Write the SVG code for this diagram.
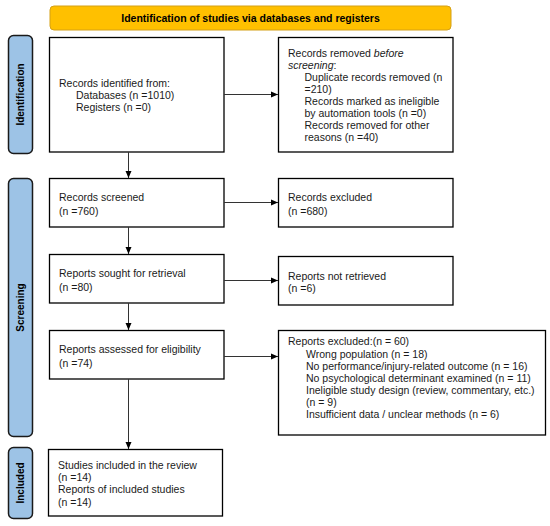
<svg xmlns="http://www.w3.org/2000/svg" width="550" height="526" viewBox="0 0 550 526">
<defs>
<marker id="ah" markerWidth="8" markerHeight="8" refX="7" refY="4" orient="auto" markerUnits="userSpaceOnUse">
<path d="M0,1 L7,4 L0,7 Z" fill="#000"/>
</marker>
<style>
.box{fill:#fff;stroke:#000;stroke-width:1.3}
.side{fill:#9DC3E6;stroke:#1a1a1a;stroke-width:1.5}
.t{font-family:"Liberation Sans",Arial,sans-serif;font-size:10.5px;fill:#1a1a1a}
.b{font-family:"Liberation Sans",Arial,sans-serif;font-size:10.5px;font-weight:bold;fill:#000}
.sl{font-family:"Liberation Sans",Arial,sans-serif;font-size:10px;font-weight:bold;fill:#000}
.c{stroke:#333;stroke-width:1;fill:none;marker-end:url(#ah)}
</style>
</defs>
<rect width="550" height="526" fill="#fff"/>
<g id="header">
<rect x="50" y="6" width="401" height="24" rx="4" fill="#FFC000" stroke="#D4A017" stroke-width="1"/>
<text class="b" x="250.5" y="22" text-anchor="middle">Identification of studies via databases and registers</text>
</g>
<g id="side-identification">
<rect class="side" x="8.5" y="35.5" width="24" height="118" rx="5"/>
<text class="sl" transform="translate(24,94.5) rotate(-90)" text-anchor="middle">Identification</text>
</g>
<g id="side-screening">
<rect class="side" x="8.5" y="178.5" width="24" height="258" rx="5"/>
<text class="sl" transform="translate(24,307.5) rotate(-90)" text-anchor="middle">Screening</text>
</g>
<g id="side-included">
<rect class="side" x="8.5" y="447.5" width="24" height="71" rx="5"/>
<text class="sl" transform="translate(24,483) rotate(-90)" text-anchor="middle">Included</text>
</g>
<g id="records-identified">
<rect class="box" x="49.5" y="37.5" width="174.5" height="114.5"/>
<text class="t" x="59" y="87">Records identified from:</text>
<text class="t" x="76" y="99">Databases (n =1010)</text>
<text class="t" x="76" y="111">Registers (n =0)</text>
</g>
<g id="records-removed">
<rect class="box" x="278.5" y="37.5" width="174.5" height="114.5"/>
<text class="t" x="288" y="57">Records removed <tspan font-style="italic">before</tspan></text>
<text class="t" x="288" y="69"><tspan font-style="italic">screening</tspan>:</text>
<text class="t" x="304.5" y="81">Duplicate records removed (n</text>
<text class="t" x="304.5" y="93">=210)</text>
<text class="t" x="304.5" y="105">Records marked as ineligible</text>
<text class="t" x="304.5" y="117">by automation tools (n =0)</text>
<text class="t" x="304.5" y="129">Records removed for other</text>
<text class="t" x="304.5" y="141">reasons (n =40)</text>
</g>
<g id="records-screened">
<rect class="box" x="49.5" y="178.5" width="174.5" height="48.5"/>
<text class="t" x="59" y="201">Records screened</text>
<text class="t" x="59" y="215">(n =760)</text>
</g>
<g id="records-excluded">
<rect class="box" x="278.5" y="178.5" width="174.5" height="48.5"/>
<text class="t" x="288" y="201">Records excluded</text>
<text class="t" x="288" y="215">(n =680)</text>
</g>
<g id="reports-sought">
<rect class="box" x="49.5" y="254.5" width="174.5" height="48.5"/>
<text class="t" x="59" y="277">Reports sought for retrieval</text>
<text class="t" x="59" y="291">(n =80)</text>
</g>
<g id="reports-not-retrieved">
<rect class="box" x="278.5" y="256.5" width="174.5" height="48.5"/>
<text class="t" x="288" y="280">Reports not retrieved</text>
<text class="t" x="288" y="292">(n =6)</text>
</g>
<g id="reports-assessed">
<rect class="box" x="49.5" y="330.5" width="174.5" height="48.5"/>
<text class="t" x="59" y="353">Reports assessed for eligibility</text>
<text class="t" x="59" y="367">(n =74)</text>
</g>
<g id="reports-excluded">
<rect class="box" x="278.5" y="330.5" width="267" height="104.5"/>
<text class="t" x="288" y="345">Reports excluded:(n = 60)</text>
<text class="t" x="306" y="358">Wrong population (n = 18)</text>
<text class="t" x="306" y="370">No performance/injury-related outcome (n = 16)</text>
<text class="t" x="306" y="381.5">No psychological determinant examined (n = 11)</text>
<text class="t" x="306" y="394">Ineligible study design (review, commentary, etc.)</text>
<text class="t" x="306" y="406">(n = 9)</text>
<text class="t" x="306" y="417.5">Insufficient data / unclear methods (n = 6)</text>
</g>
<g id="studies-included">
<rect class="box" x="48.5" y="449.5" width="174" height="66.5"/>
<text class="t" x="58" y="469">Studies included in the review</text>
<text class="t" x="58" y="481">(n =14)</text>
<text class="t" x="58" y="493">Reports of included studies</text>
<text class="t" x="58" y="505.5">(n =14)</text>
</g>
<g id="connectors">
<line class="c" x1="224" y1="94.5" x2="278" y2="94.5"/>
<line class="c" x1="128.5" y1="152" x2="128.5" y2="178"/>
<line class="c" x1="224" y1="202.5" x2="278" y2="202.5"/>
<line class="c" x1="128.5" y1="227" x2="128.5" y2="254"/>
<line class="c" x1="224" y1="280.5" x2="278" y2="280.5"/>
<line class="c" x1="128.5" y1="303" x2="128.5" y2="330"/>
<line class="c" x1="224" y1="356.5" x2="278" y2="356.5"/>
<line class="c" x1="128.5" y1="379" x2="128.5" y2="449"/>
</g>
</svg>
